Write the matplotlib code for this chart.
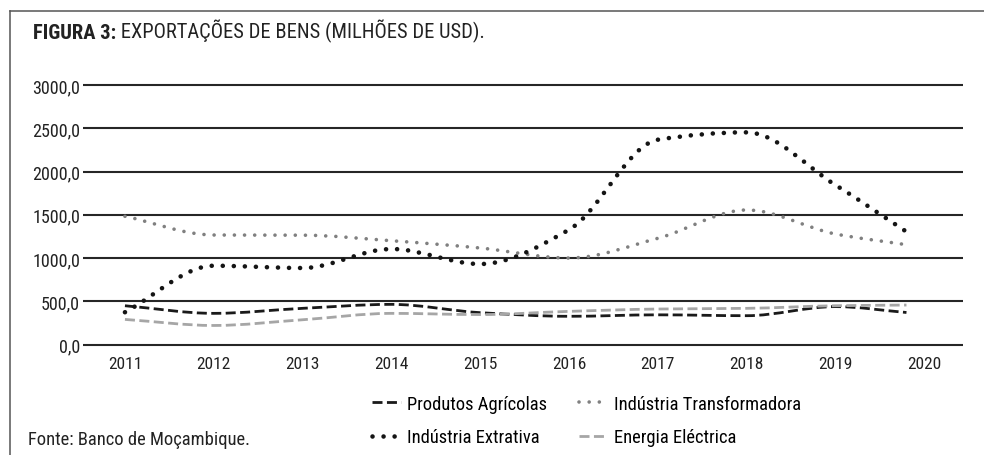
import numpy as np
import matplotlib
matplotlib.use("Agg")
import matplotlib.pyplot as plt
from matplotlib import font_manager as fm
from matplotlib.path import Path
from matplotlib.patches import PathPatch
from matplotlib.lines import Line2D

# fonte estreita, se houver
fontes = {(f.name, f.stretch) for f in fm.fontManager.ttflist}
nomes = {f[0] for f in fontes}
escolha = 'Roboto'
esticar = 'normal'
for cand in ['Liberation Sans Narrow', 'Roboto Condensed', 'Open Sans Condensed', 'Noto Sans Condensed']:
    if cand in nomes:
        escolha = cand
        break
else:
    if ('DejaVu Sans', 'condensed') in fontes:
        escolha, esticar = 'DejaVu Sans', 'condensed'
plt.rcParams['font.family'] = [escolha, 'DejaVu Sans']
plt.rcParams['font.stretch'] = esticar

# dados (milhões de USD)
anos = [2011, 2012, 2013, 2014, 2015, 2016, 2017, 2018, 2019, 2020]
# o último ponto das séries fica um pouco antes do rótulo 2020
x_dados = [2011, 2012, 2013, 2014, 2015, 2016, 2017, 2018, 2019, 2019.8]
produtos_agricolas = [450, 362, 420, 466, 370, 328, 345, 335, 440, 372]
ind_transformadora = [1483, 1267, 1265, 1201, 1117, 1001, 1229, 1556, 1279, 1155]
ind_extrativa = [375, 912, 886, 1105, 932, 1328, 2368, 2453, 1845, 1305]
energia_electrica = [292, 222, 288, 362, 348, 385, 412, 420, 450, 458]


def curva(xs, ys):
    # linha suavizada: Bezier cúbica com tangentes tipo PCHIP
    x = np.asarray(xs, float)
    y = np.asarray(ys, float)
    h = np.diff(x)
    d = np.diff(y) / h
    m = np.zeros_like(y)
    m[0], m[-1] = d[0], d[-1]
    for i in range(1, len(y) - 1):
        if d[i - 1] * d[i] > 0:
            m[i] = 2 * d[i - 1] * d[i] / (d[i - 1] + d[i])
    verts = [(x[0], y[0])]
    codes = [Path.MOVETO]
    for i in range(len(y) - 1):
        verts += [(x[i] + h[i] / 3, y[i] + m[i] * h[i] / 3),
                  (x[i + 1] - h[i] / 3, y[i + 1] - m[i + 1] * h[i] / 3),
                  (x[i + 1], y[i + 1])]
        codes += [Path.CURVE4] * 3
    return Path(verts, codes)


estilos = {
    'Produtos Agrícolas': dict(color='#1a1a1a', lw=2.0, ls=(0, (3.6, 1.6)), cap='butt'),
    'Indústria Transformadora': dict(color='#808080', lw=2.6, ls=(0, (0.01, 2.8)), cap='round'),
    'Indústria Extrativa': dict(color='#141414', lw=3.3, ls=(0, (0.01, 2.4)), cap='round'),
    'Energia Eléctrica': dict(color='#a6a6a6', lw=2.0, ls=(0, (3.6, 1.6)), cap='butt'),
}
series = {
    'Produtos Agrícolas': produtos_agricolas,
    'Indústria Transformadora': ind_transformadora,
    'Indústria Extrativa': ind_extrativa,
    'Energia Eléctrica': energia_electrica,
}

fig = plt.figure(figsize=(9.84, 4.56), dpi=100)
ax = fig.add_axes([0.0843, 0.2419, 0.8944, 0.5695])

yticks = list(range(0, 3001, 500))
ax.set_xlim(2010.527, 2020.437)
ax.set_ylim(0, 3000)
ax.hlines(yticks, 2010.527, 2020.437, color='#262626', lw=1.5, zorder=1, clip_on=False)

handles = {}
for nome, vals in series.items():
    st = estilos[nome]
    patch = PathPatch(curva(x_dados, vals), fill=False, edgecolor=st['color'],
                      lw=st['lw'], linestyle=st['ls'], capstyle=st['cap'],
                      zorder=3, clip_on=False)
    ax.add_patch(patch)
    handles[nome] = Line2D([], [], color=st['color'], lw=st['lw'], linestyle=st['ls'],
                           dash_capstyle=st['cap'], label=nome)

ax.set_yticks(yticks)
ax.set_yticklabels([f"{v:.1f}".replace('.', ',') for v in yticks], fontsize=13, color='#222222')
ax.set_xticks(anos)
ax.set_xticklabels([str(a) for a in anos], fontsize=12.5, color='#222222')
ax.tick_params(axis='y', length=0, pad=2)
ax.tick_params(axis='x', length=0, pad=8)
for s in ax.spines.values():
    s.set_visible(False)

ordem = ['Produtos Agrícolas', 'Indústria Extrativa', 'Indústria Transformadora', 'Energia Eléctrica']
fig.legend(handles=[handles[k] for k in ordem], ncol=2, loc='center',
           bbox_to_anchor=(0.596, 0.0757), frameon=False, fontsize=13.3,
           handlelength=1.55, handletextpad=0.35, columnspacing=1.7, labelspacing=0.85)

# título e fonte
t1 = fig.text(33 / 984, 1 - 33.5 / 456, 'FIGURA 3:', fontsize=14.8, fontweight='bold',
              va='center', ha='left', color='#222222')
ax.annotate(' EXPORTAÇÕES DE BENS (MILHÕES DE USD).', xy=(1, 0), xycoords=t1,
            fontsize=14.8, va='bottom', ha='left', color='#222222', annotation_clip=False)
fig.text(28 / 984, 1 - 440 / 456, 'Fonte: Banco de Moçambique.', fontsize=13.3,
         va='center', ha='left', color='#222222')

# moldura (linhas superior e esquerda)
fig.add_artist(Line2D([10 / 984, 1], [1 - 12 / 456, 1 - 12 / 456], color='#555555', lw=1.1,
                      transform=fig.transFigure))
fig.add_artist(Line2D([10 / 984, 10 / 984], [1 - 12 / 456, 0], color='#555555', lw=1.1,
                      transform=fig.transFigure))

fig.savefig('out.png', dpi=100)
